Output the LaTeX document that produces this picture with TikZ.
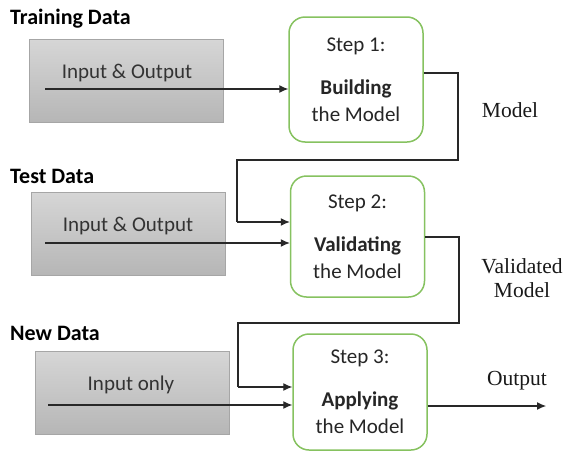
\documentclass[tikz,border=0pt]{standalone}
\usepackage{fontspec}
\setmainfont{Carlito}
\newfontfamily\serifl{Liberation Serif}
\usetikzlibrary{arrows.meta}
\definecolor{stepgreen}{RGB}{134,194,96}
\definecolor{boxedge}{RGB}{166,166,166}
\definecolor{boxtop}{RGB}{214,214,214}
\definecolor{boxbot}{RGB}{182,182,182}
\definecolor{linegray}{RGB}{40,40,40}
\tikzset{
  stepbox/.style={draw=stepgreen, line width=1.5pt, rounded corners=16pt, fill=white,
    minimum width=134pt, align=center, text=black!85,
    font=\fontsize{21}{27}\selectfont},
  databox/.style={draw=boxedge, line width=0.8pt, top color=boxtop, bottom color=boxbot,
    minimum width=194pt, minimum height=83pt},
  boxtext/.style={text=black!80, font=\fontsize{21}{25}\selectfont},
  title/.style={anchor=west, font=\fontsize{22}{26}\selectfont\bfseries, text=black, inner sep=0pt},
  serlabel/.style={font=\serifl\fontsize{21.5}{24}\selectfont, text=black!90, align=center},
  flow/.style={line width=1.1pt, draw=linegray, -{Latex[length=9pt,width=8pt]}},
  link/.style={line width=1.1pt, draw=linegray},
}
\begin{document}
\begin{tikzpicture}[x=1pt,y=-1pt]
\useasboundingbox (0,0) rectangle (565,453);

% titles
\node[title] (t1) at (10,19) {Training Data};
\node[title] (t2) at (10,176) {Test Data};
\node[title] (t3) at (10,333) {New Data};

% data boxes
\node[databox] (g1) at (126.5,80.5) {};
\node[databox] (g2) at (128,233.5) {};
\node[databox] (g3) at (132,392.5) {};
\node[boxtext] (g1t) at (127,73) {Input \& Output};
\node[boxtext] (g2t) at (128,226) {Input \& Output};
\node[boxtext] (g3t) at (131,385) {Input only};

% step boxes
\node[stepbox, minimum height=125pt] (s1) at (356,79.5) {Step 1:\\[16pt]\textbf{Building}\\the Model};
\node[stepbox, minimum height=121pt] (s2) at (357.5,236.5) {Step 2:\\[16pt]\textbf{Validating}\\the Model};
\node[stepbox, minimum height=116pt] (s3) at (360,392) {Step 3:\\[16pt]\textbf{Applying}\\the Model};

% input arrows
\coordinate (i1) at (45,89);
\coordinate (i2) at (45,243);
\coordinate (i3) at (48,405);
\draw[flow] (i1) -- (i1 -| s1.west);
\draw[flow] (i2) -- (i2 -| s2.west);
\draw[flow] (i3) -- (i3 -| s3.west);

% model connector
\coordinate (m0) at (0,73);
\coordinate (m1) at (458,73);
\coordinate (m2) at (458,160);
\coordinate (m3) at (237,160);
\coordinate (m4) at (237,222);
\draw[link] (m0 -| s1.east) -- (m1) -- (m2) -- (m3) -- (m4);
\draw[flow] (m4) -- (m4 -| s2.west);

% validated connector
\coordinate (v0) at (0,237);
\coordinate (v1) at (459,237);
\coordinate (v2) at (459,323);
\coordinate (v3) at (238,323);
\coordinate (v4) at (238,387);
\draw[link] (v0 -| s2.east) -- (v1) -- (v2) -- (v3) -- (v4);
\draw[flow] (v4) -- (v4 -| s3.west);

% output
\coordinate (o0) at (0,406);
\coordinate (o1) at (546,406);
\draw[flow] (o0 -| s3.east) -- (o1);

% labels
\node[serlabel] (lm) at (510,110) {Model};
\node[serlabel] (lv) at (522,278) {Validated\\Model};
\node[serlabel] (lo) at (517,381) {Output};
\end{tikzpicture}
\end{document}
